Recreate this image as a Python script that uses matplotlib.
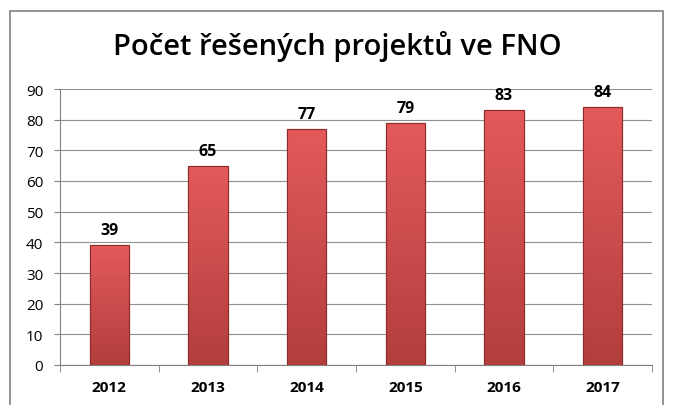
import matplotlib.pyplot as plt
import matplotlib.patches as mpatches
import numpy as np
from matplotlib.colors import LinearSegmentedColormap

plt.rcParams['font.family'] = ['Open Sans', 'DejaVu Sans']

years = ["2012", "2013", "2014", "2015", "2016", "2017"]
projects = [39, 65, 77, 79, 83, 84]
title = "Počet řešených projektů ve FNO"

BAR_CMAP = LinearSegmentedColormap.from_list("bar", ["#B23E3E", "#E45A5A"])
EDGE_COLOR = "#8E2A2A"

fig = plt.figure(figsize=(6.85, 4.06), dpi=100)
ax = fig.add_axes([60 / 685, 40 / 406, 592 / 685, 276 / 406])

# Outer chart frame.
frame = mpatches.Rectangle((10 / 685, -0.05), 653 / 685, 1.05 - 12 / 406,
                           transform=fig.transFigure, fill=False,
                           edgecolor="#808080", linewidth=1.2)
fig.patches.append(frame)

x = np.arange(len(years))
bars = ax.bar(x, projects, width=0.4, color="#D44C4C", edgecolor=EDGE_COLOR,
              linewidth=0.8, zorder=3)

# Vertical gradient fill on each bar.
grad = np.linspace(0, 1, 256).reshape(-1, 1)
for bar in bars:
    bx, by = bar.get_x(), bar.get_y()
    w, h = bar.get_width(), bar.get_height()
    im = ax.imshow(grad, cmap=BAR_CMAP, aspect="auto", origin="lower",
                   extent=[bx, bx + w, by, by + h], zorder=3.5)
    im.set_clip_path(bar)
    ax.add_patch(mpatches.Rectangle((bx, by), w, h, fill=False,
                                    edgecolor=EDGE_COLOR, linewidth=0.8, zorder=4))

for xi, v in zip(x, projects):
    ax.text(xi, v + 2.3, str(v), ha="center", va="bottom",
            fontsize=11.5, fontweight="bold", zorder=5)

ax.set_xlim(-0.5, len(years) - 0.5)
ax.set_ylim(0, 90)
ax.set_yticks(range(0, 91, 10))
ax.set_xticks(x)
ax.set_xticklabels(years, fontweight="bold", fontsize=11)
ax.tick_params(axis="y", labelsize=11, length=4, color="#808080", pad=8)
ax.tick_params(axis="x", length=0, pad=11)
ax.set_xticks(np.arange(-0.5, len(years), 1.0), minor=True)
ax.tick_params(axis="x", which="minor", length=5, color="#808080")

ax.grid(axis="y", color="#909090", linewidth=0.8, zorder=0)
for side in ["top", "right"]:
    ax.spines[side].set_visible(False)
ax.spines["left"].set_color("#808080")
ax.spines["bottom"].set_color("#808080")

fig.text(337 / 685, 1 - 46 / 406, title, ha="center", va="center",
         fontsize=21, fontweight="semibold")

fig.savefig("out.png", dpi=100)
